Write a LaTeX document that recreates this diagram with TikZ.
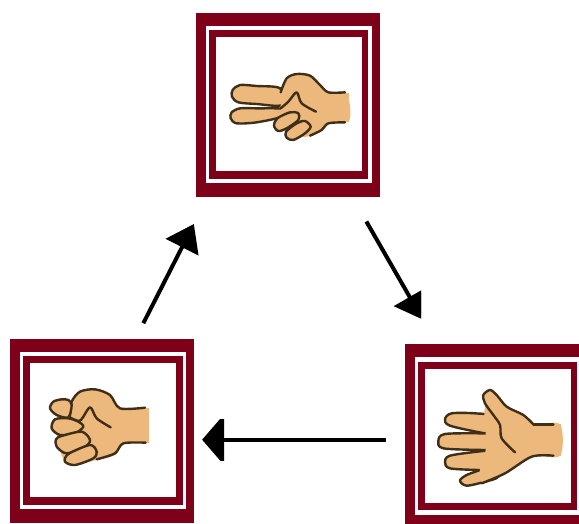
\documentclass[tikz,border=0pt]{standalone}
\usepackage{tikz}
\usetikzlibrary{arrows.meta}
\definecolor{framered}{HTML}{7F0019}
\definecolor{skin}{HTML}{EDB87C}
\definecolor{handline}{HTML}{3F2E18}
\tikzset{
  flowarrow/.style={-{Triangle[length=26pt, width=36pt]}, line width=4pt},
  flowarrowwide/.style={-{Triangle[length=22pt, width=50pt]}, line width=4pt},
  frameouter/.style={fill=framered, inner sep=0pt, outer sep=0pt, minimum width=184.5pt, minimum height=184.5pt},
  framering/.style={fill=white, inner sep=0pt, outer sep=0pt, minimum width=166.2pt, minimum height=157.3pt},
  frameband/.style={fill=framered, inner sep=0pt, outer sep=0pt, minimum width=159.8pt, minimum height=148.8pt},
  framecore/.style={fill=white, inner sep=0pt, outer sep=0pt, minimum width=145.6pt, minimum height=134pt},
  handskin/.style={fill=skin, draw=handline, line width=2.4pt, line join=round},
  handfill/.style={fill=skin},
  handcrease/.style={draw=handline, line width=2.4pt, line cap=round, line join=round}
}
\begin{document}
\begin{tikzpicture}[x=1pt, y=-1pt]
  \useasboundingbox (0,0) rectangle (579,523);
  \clip (0,0) rectangle (579,523);
  % frames
  \node[frameouter] (scissors) at (287.75,104.85) {};
  \node[framering] (scissorsring) at (288.6,104.35) {};
  \node[frameband] (scissorsband) at (288.5,104.35) {};
  \node[framecore] (scissorscore) at (288.85,104.3) {};
  \node[frameouter] (fist) at (101.85,431) {};
  \node[framering] (fistring) at (103,430.35) {};
  \node[frameband] (fistband) at (103,430.5) {};
  \node[framecore] (fistcore) at (103,430.3) {};
  \node[frameouter] (paper) at (496.75,436.45) {};
  \node[framering] (paperring) at (497.6,435.95) {};
  \node[frameband] (paperband) at (497.5,435.95) {};
  \node[framecore] (papercore) at (497.85,435.9) {};
  % scissors hand
  \begin{scope}[shift={(190,5)}, scale=1/3]
    \draw[handskin] plot[smooth cycle] coordinates {(270,250)(200,243)(150,240)(128,255)(126,275)(145,292)(200,297)(275,300)};
    \draw[handskin] plot[smooth cycle] coordinates {(280,312)(200,310)(150,310)(125,322)(122,340)(140,355)(200,352)(275,335)};
    \fill[handfill] plot[smooth cycle] coordinates {(272,320)(272,255)(290,220)(320,207)(360,212)(390,240)(415,262)(470,265)(478,345)(415,355)(395,375)(350,395)(300,390)(265,345)};
    \fill[handfill] (430,263) rectangle (478,351);
    \draw[handcrease] plot[smooth] coordinates {(272,262)(290,220)(320,207)(360,212)(390,240)(415,262)(465,262)};
    \draw[handcrease] plot[smooth] coordinates {(465,352)(415,355)(395,375)(360,392)};
    \draw[handskin] plot[smooth cycle] coordinates {(300,322)(325,325)(325,345)(290,370)(265,378)(252,362)(262,340)};
    \draw[handskin] plot[smooth cycle] coordinates {(345,348)(362,365)(345,385)(310,405)(290,398)(288,380)(320,355)};
    \draw[handcrease] plot[smooth] coordinates {(272,310)(295,290)(320,262)(335,295)(378,320)};
  \end{scope}
  % fist hand
  \begin{scope}[shift={(0,330)}, scale=1/3]
    \fill[handfill] plot[smooth cycle] coordinates {(215,215)(240,185)(285,178)(330,195)(360,235)(435,235)(445,280)(440,335)(370,340)(345,375)(290,390)(200,400)(170,300)};
    \fill[handfill] (400,235) rectangle (446,338);
    \draw[handcrease] plot[smooth] coordinates {(210,258)(215,215)(240,185)(285,178)(330,195)(360,235)(435,233)};
    \draw[handcrease] plot[smooth] coordinates {(437,338)(370,340)(345,370)(290,388)};
    \draw[handskin] plot[smooth cycle] coordinates {(205,210)(215,225)(205,262)(170,255)(150,235)(160,215)(185,208)};
    \draw[handskin] plot[smooth cycle] coordinates {(205,265)(235,275)(250,290)(225,310)(180,315)(155,295)(165,268)};
    \draw[handskin] plot[smooth cycle] coordinates {(185,318)(245,305)(270,330)(255,350)(200,370)(170,350)(168,328)};
    \draw[handskin] plot[smooth cycle] coordinates {(205,372)(270,345)(290,365)(280,385)(225,405)(195,395)};
    \draw[handcrease] plot[smooth] coordinates {(210,262)(240,272)(270,232)(290,265)(332,292)};
  \end{scope}
  % paper hand
  \begin{scope}[shift={(395,335)}, scale=1/3]
    \draw[handskin] plot[smooth cycle] coordinates {(300,245)(240,235)(170,235)(150,252)(165,272)(270,295)(310,295)};
    \draw[handskin] plot[smooth cycle] coordinates {(310,297)(270,295)(150,297)(130,318)(145,340)(265,345)(310,345)};
    \draw[handskin] plot[smooth cycle] coordinates {(310,348)(265,348)(165,362)(150,382)(165,400)(250,405)(310,405)};
    \draw[handskin] plot[smooth cycle] coordinates {(310,385)(270,400)(215,420)(195,437)(215,452)(270,440)(310,425)};
    \fill[handfill] plot[smooth cycle] coordinates {(268,238)(270,205)(265,180)(285,165)(305,180)(335,215)(385,240)(415,268)(495,268)(495,362)(410,365)(330,415)(262,442)(255,400)(272,345)(272,295)};
    \fill[handfill] (440,268) rectangle (497,364);
    \draw[handcrease] plot[smooth] coordinates {(415,268)(385,240)(335,215)(305,180)(285,165)(265,180)(270,205)(295,240)(315,270)(320,310)(360,352)};
    \draw[handcrease] (415,268) -- (475,268);
    \draw[handcrease] plot[smooth] coordinates {(475,362)(410,365)(330,415)(260,445)};
  \end{scope}
  % arrows, heads cut off as in the picture
  \begin{scope}
    \clip (0,0) rectangle (198.5,523);
    \draw[flowarrow, shorten <=17.4pt, shorten >=30.2pt] (fist.70.5) -- (scissors.229.7);
  \end{scope}
  \begin{scope}
    \clip (0,0) rectangle (421,523);
    \draw[flowarrow, shorten <=28.1pt, shorten >=28.5pt] (scissors.305.3) -- (paper.123.9);
  \end{scope}
  \begin{scope}
    \clip (0,419) rectangle (579,460);
    \draw[flowarrowwide, shorten <=18.9pt, shorten >=8pt] ([yshift=-3.25pt]paper.west) -- ([yshift=-8.7pt]fist.east);
  \end{scope}
\end{tikzpicture}
\end{document}
